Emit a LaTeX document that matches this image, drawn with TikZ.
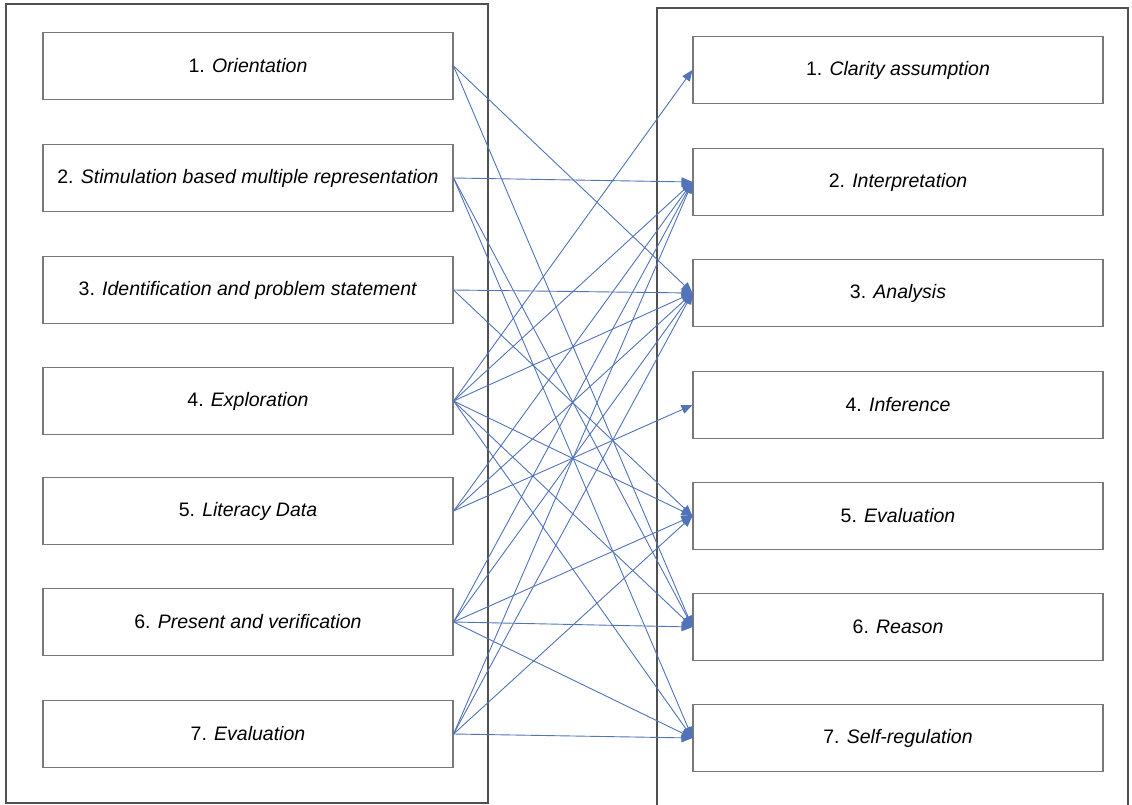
\documentclass[tikz,border=0pt]{standalone}
\usepackage{fontspec}
\setmainfont{Liberation Sans}
\usetikzlibrary{arrows.meta}
\definecolor{framegray}{RGB}{80, 80, 80}
\definecolor{boxgray}{RGB}{120, 120, 120}
\definecolor{linkblue}{RGB}{80, 115, 185}

\begin{document}
\begin{tikzpicture}[
  x=1pt, y=-1pt,
  stepbox/.style={draw=boxgray, line width=1.1pt, minimum width=410pt, minimum height=67pt, inner sep=0pt, font=\fontsize{19.5}{23}\selectfont},
  link/.style={draw=linkblue, line width=0.9pt, -{Triangle[length=11pt, width=9pt]}}
]
  \useasboundingbox (0,0) rectangle (1132,805);
  % outer frames
  \draw[framegray, line width=1.1pt] (6,4) rectangle (488,803);
  \draw[framegray, line width=1.1pt] (657,812) -- (657,8) -- (1128,8) -- (1128,812);

  % syntax steps
  \node[stepbox] (s1) at (248, 66) {1. \textit{Orientation}};
  \node[stepbox] (s2) at (248,178) {2. \textit{Stimulation based multiple representation}};
  \node[stepbox] (s3) at (248,290) {3. \textit{Identification and problem statement}};
  \node[stepbox] (s4) at (248,401) {4. \textit{Exploration}};
  \node[stepbox] (s5) at (248,511) {5. \textit{Literacy Data}};
  \node[stepbox] (s6) at (248,622) {6. \textit{Present and verification}};
  \node[stepbox] (s7) at (248,734) {7. \textit{Evaluation}};

  % critical thinking indicators
  \node[stepbox] (c1) at (898, 70) {1. \textit{Clarity assumption}};
  \node[stepbox] (c2) at (898,182) {2. \textit{Interpretation}};
  \node[stepbox] (c3) at (898,293) {3. \textit{Analysis}};
  \node[stepbox] (c4) at (898,405) {4. \textit{Inference}};
  \node[stepbox] (c5) at (898,516) {5. \textit{Evaluation}};
  \node[stepbox] (c6) at (898,627) {6. \textit{Reason}};
  \node[stepbox] (c7) at (898,738) {7. \textit{Self-regulation}};

  % links
  \draw[link] (s1.east) -- (c3.west);
  \draw[link] (s1.east) -- (c6.west);
  \draw[link] (s2.east) -- (c2.west);
  \draw[link] (s2.east) -- (c6.west);
  \draw[link] (s2.east) -- (c7.west);
  \draw[link] (s3.east) -- (c3.west);
  \draw[link] (s3.east) -- (c5.west);
  \draw[link] (s4.east) -- (c1.west);
  \draw[link] (s4.east) -- (c2.west);
  \draw[link] (s4.east) -- (c3.west);
  \draw[link] (s4.east) -- (c5.west);
  \draw[link] (s4.east) -- (c6.west);
  \draw[link] (s4.east) -- (c7.west);
  \draw[link] (s5.east) -- (c2.west);
  \draw[link] (s5.east) -- (c3.west);
  \draw[link] (s5.east) -- (c4.west);
  \draw[link] (s6.east) -- (c2.west);
  \draw[link] (s6.east) -- (c3.west);
  \draw[link] (s6.east) -- (c5.west);
  \draw[link] (s6.east) -- (c6.west);
  \draw[link] (s6.east) -- (c7.west);
  \draw[link] (s7.east) -- (c2.west);
  \draw[link] (s7.east) -- (c3.west);
  \draw[link] (s7.east) -- (c5.west);
  \draw[link] (s7.east) -- (c7.west);
\end{tikzpicture}
\end{document}
